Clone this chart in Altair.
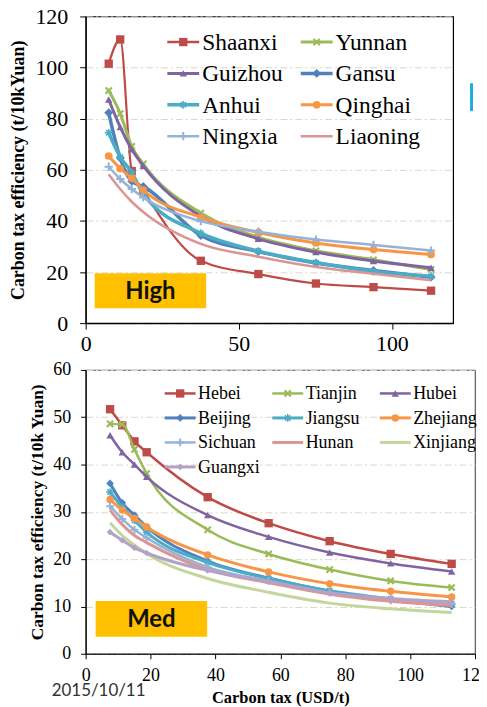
import altair as alt
import pandas as pd

# ---------------- data ----------------
TAX = [7.52, 11.28, 15.04, 18.8, 37.6, 56.4, 75.2, 94.0, 112.8]

HIGH_NAMES = ["Shaanxi", "Yunnan", "Guizhou", "Gansu", "Anhui", "Qinghai", "Ningxia", "Liaoning"]
SHAANXI = [101.5, 111.0, 59.5, 52.0, 24.4, 19.2, 15.5, 14.1, 12.7]
YUNNAN = [91.0, 82.0, 69.2, 62.3, 43.1, 33.6, 28.3, 24.8, 21.0]
GUIZHOU = [87.5, 76.7, 68.0, 61.5, 41.8, 33.0, 27.8, 24.3, 21.7]
GANSU = [82.3, 64.6, 55.5, 53.5, 34.3, 28.0, 23.5, 20.6, 18.0]
ANHUI = [74.5, 65.0, 59.0, 50.5, 35.2, 28.2, 23.7, 20.2, 18.4]
QINGHAI = [65.4, 60.5, 56.7, 52.1, 41.4, 35.5, 31.4, 28.8, 26.9]
NINGXIA = [61.2, 56.4, 52.5, 49.2, 39.9, 35.8, 32.7, 30.6, 28.4]
LIAONING = [58.3, 52.5, 47.5, 43.5, 31.0, 26.0, 22.0, 19.3, 16.8]
HIGH_VALUES = [SHAANXI, YUNNAN, GUIZHOU, GANSU, ANHUI, QINGHAI, NINGXIA, LIAONING]

MED_NAMES = ["Hebei", "Tianjin", "Hubei", "Beijing", "Jiangsu", "Zhejiang",
             "Sichuan", "Hunan", "Xinjiang", "Guangxi"]
HEBEI = [51.7, 48.3, 44.9, 42.6, 33.1, 27.6, 23.8, 21.1, 19.0]
TIANJIN = [48.6, 48.5, 43.2, 38.1, 26.2, 21.1, 17.8, 15.4, 14.0]
HUBEI = [46.2, 42.6, 40.0, 37.4, 29.3, 24.7, 21.4, 19.1, 17.4]
BEIJING = [36.0, 31.9, 29.3, 26.8, 19.6, 16.0, 13.2, 11.4, 10.0]
JIANGSU = [34.2, 31.0, 28.2, 25.7, 19.3, 15.9, 13.3, 11.6, 10.4]
ZHEJIANG = [32.6, 30.4, 28.6, 26.8, 20.9, 17.3, 14.8, 13.2, 12.0]
SICHUAN = [31.2, 28.5, 26.2, 24.5, 18.3, 15.4, 12.9, 11.3, 10.5]
HUNAN = [30.3, 27.3, 25.0, 23.5, 17.8, 15.0, 12.6, 11.1, 10.2]
XINJIANG = [27.7, 25.0, 23.0, 21.2, 15.9, 13.0, 10.7, 9.5, 8.7]
GUANGXI = [25.7, 24.0, 22.4, 21.3, 17.6, 15.3, 12.9, 11.7, 11.0]
MED_VALUES = [HEBEI, TIANJIN, HUBEI, BEIJING, JIANGSU, ZHEJIANG, SICHUAN, HUNAN, XINJIANG, GUANGXI]

HIGH_X_TICKS = [0, 50, 100]
HIGH_Y_TICKS = [0, 20, 40, 60, 80, 100, 120]
MED_X_TICKS = [0, 20, 40, 60, 80, 100, 120]
MED_Y_TICKS = [0, 10, 20, 30, 40, 50, 60]

# ---------------- styles ----------------
XMARK = "M-1,-0.6L-0.6,-1L0,-0.4L0.6,-1L1,-0.6L0.4,0L1,0.6L0.6,1L0,0.4L-0.6,1L-1,0.6L-0.4,0Z"
STAR = "M-1,0L1,0M0,-1L0,1M-0.7,-0.7L0.7,0.7M0.7,-0.7L-0.7,0.7"
PLUS = "M-1,0L1,0M0,-1L0,1"

# name: (color, line width, shape, filled, size, marker stroke)
STYLES = {
    "Shaanxi": ("#BE4B48", 2.2, "square", True, 70, 1),
    "Yunnan": ("#9BBB59", 3.0, XMARK, True, 60, 1),
    "Guizhou": ("#8064A2", 3.0, "triangle-up", True, 55, 1),
    "Gansu": ("#4F81BD", 3.5, "diamond", True, 80, 1),
    "Anhui": ("#4BACC6", 3.5, STAR, False, 60, 1.5),
    "Qinghai": ("#F79646", 3.0, "circle", True, 60, 1),
    "Ningxia": ("#95B3D7", 2.5, PLUS, False, 70, 2),
    "Liaoning": ("#D99694", 2.5, None, True, 0, 1),
    "Hebei": ("#BE4B48", 2.5, "square", True, 70, 1),
    "Tianjin": ("#9BBB59", 2.5, XMARK, True, 60, 1),
    "Hubei": ("#8064A2", 2.5, "triangle-up", True, 55, 1),
    "Beijing": ("#4F81BD", 3.0, "diamond", True, 60, 1),
    "Jiangsu": ("#4BACC6", 3.0, STAR, False, 60, 1.5),
    "Zhejiang": ("#F79646", 3.0, "circle", True, 55, 1),
    "Sichuan": ("#95B3D7", 2.5, PLUS, False, 60, 2),
    "Hunan": ("#D99694", 3.0, None, True, 0, 1),
    "Xinjiang": ("#C3D69B", 3.0, None, True, 0, 1),
    "Guangxi": ("#B3A2C7", 3.0, "diamond", True, 45, 1),
}

SERIF = "'Liberation Serif', 'Times New Roman', serif"
GRID_COLOR = "#DCD8C4"
ONE = pd.DataFrame({"k": [0]})


def panel(names, values, xticks, yticks, ytitle, xtitle,
          lab_size, title_size, tick_size, ylab_pad, xlab_pad, ytitle_pad,
          leg, badge):
    rows = []
    for n, vals in zip(names, values):
        for t, v in zip(TAX, vals):
            rows.append({"series": n, "tax": t, "eff": v})
    df = pd.DataFrame(rows)

    xaxis = alt.Axis(values=xticks, grid=False, tickSize=tick_size, tickColor="black",
                     domainColor="black", domainWidth=1.2, labelFont=SERIF,
                     labelFontSize=lab_size, labelColor="black", labelPadding=xlab_pad,
                     title=xtitle if xtitle else None, titleFont=SERIF, titleFontWeight="bold",
                     titleFontSize=16.5, titleColor="black", titlePadding=5,
                     labelFlush=False)
    yaxis = alt.Axis(values=yticks, grid=True, gridColor=GRID_COLOR, gridDash=[7, 3, 2, 3],
                     gridWidth=1, tickSize=tick_size, tickColor="black", domainColor="black",
                     domainWidth=1.2, labelFont=SERIF, labelFontSize=lab_size,
                     labelColor="black", labelPadding=ylab_pad, title=ytitle, titleFont=SERIF,
                     titleFontWeight="bold", titleFontSize=title_size, titleColor="black",
                     titlePadding=ytitle_pad)
    X = alt.X("tax:Q", scale=alt.Scale(domain=[0, 120], nice=False, zero=True), axis=xaxis)
    Y = alt.Y("eff:Q", scale=alt.Scale(domain=[yticks[0], yticks[-1]], nice=False), axis=yaxis)

    base = alt.Chart(df)
    layers = []
    # badge (High / Med)
    bx0, bx1, by0, by1, btext, bsize = badge
    layers.append(alt.Chart(ONE).mark_rect(color="#FFC000").encode(
        x=alt.value(bx0), x2=alt.value(bx1), y=alt.value(by0), y2=alt.value(by1)))
    layers.append(alt.Chart(ONE).mark_text(font="Lato", fontWeight="bold", fontSize=bsize,
                                           color="#111111", align="center", baseline="middle").encode(
        x=alt.value((bx0 + bx1) / 2), y=alt.value((by0 + by1) / 2 + 1), text=alt.value(btext)))

    lx0, ldx, ly0, ldy, ncol, llen, tgap, lfs = leg
    for i, n in enumerate(names):
        color, lw, shape, filled, size, msw = STYLES[n]
        sub = base.transform_filter(alt.datum.series == n)
        layers.append(sub.mark_line(interpolate="monotone", strokeWidth=lw, color=color,
                                    clip=True).encode(x=X, y=Y))
        if shape:
            layers.append(sub.mark_point(shape=shape, filled=filled, size=size, color=color,
                                         strokeWidth=msw, opacity=1).encode(x=X, y=Y))
        # legend entry
        col, row = i % ncol, i // ncol
        x0 = lx0 + col * ldx
        yy = ly0 + row * ldy
        layers.append(alt.Chart(ONE).mark_rule(color=color, strokeWidth=max(lw, 2.5)).encode(
            x=alt.value(x0), x2=alt.value(x0 + llen), y=alt.value(yy)))
        if shape:
            layers.append(alt.Chart(ONE).mark_point(shape=shape, filled=filled, size=size,
                                                    color=color, strokeWidth=msw, opacity=1).encode(
                x=alt.value(x0 + llen / 2), y=alt.value(yy)))
        layers.append(alt.Chart(ONE).mark_text(font=SERIF, fontSize=lfs, color="black",
                                               align="left", baseline="middle").encode(
            x=alt.value(x0 + llen + tgap), y=alt.value(yy + 1), text=alt.value(n)))
    return layers


top_layers = panel(HIGH_NAMES, HIGH_VALUES, HIGH_X_TICKS, HIGH_Y_TICKS,
                   "Carbon tax efficiency (t/10kYuan)", None,
                   22, 18, 6, 12, 4, 7,
                   (82, 134, 25.7, 31.5, 2, 32, 3, 23.5),
                   (9, 121, 258, 293, "High", 24))
# small blue fragment at the right edge of the slide
top_layers.append(alt.Chart(ONE).mark_rect(color="#1CADE4").encode(
    x=alt.value(386), x2=alt.value(389), y=alt.value(67), y2=alt.value(95)))
top = alt.layer(*top_layers).properties(
    width=369, height=308,
    view=alt.ViewBackground(stroke="black", strokeWidth=1.2))

med_layers = panel(MED_NAMES, MED_VALUES, MED_X_TICKS, MED_Y_TICKS,
                   "Carbon tax efficiency (t/10k Yuan)", "Carbon tax (USD/t)",
                   18, 17.5, 5, 10, 8, 6,
                   (79.4, 108, 23.6, 24.6, 3, 31, 2.5, 18),
                   (10, 122, 232, 268, "Med", 24))
med_layers.append(alt.Chart(ONE).mark_text(font="Lato", fontSize=17, color="#333333",
                                           align="center", baseline="middle").encode(
    x=alt.value(13), y=alt.value(322), text=alt.value("2015/10/11")))
bottom = alt.layer(*med_layers).properties(
    width=391, height=285,
    view=alt.ViewBackground(stroke="#595959", strokeWidth=1.2))

chart = alt.vconcat(top, bottom, spacing=47, bounds="flush").properties(
    padding={"top": -5, "left": 1, "right": -11, "bottom": 0},
    background="white")

chart.save("out.html", embed_options={"renderer": "svg", "actions": False})
